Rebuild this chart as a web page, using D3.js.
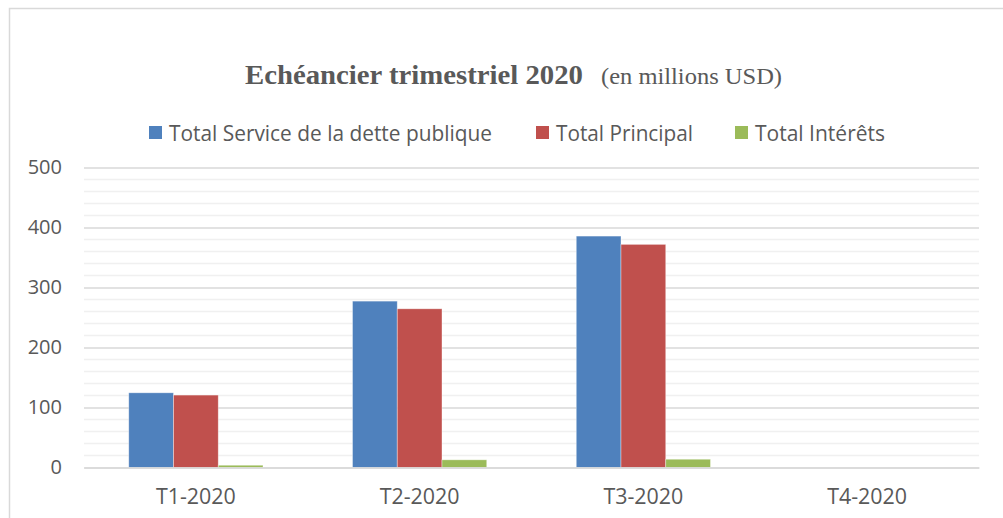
<!DOCTYPE html>
<html>
<head>
<meta charset="utf-8">
<script src="https://cdn.jsdelivr.net/npm/d3@7"></script>
<style>
  html, body { margin: 0; padding: 0; background: #fff; }
  svg { display: block; }
</style>
</head>
<body>
<svg id="chart" width="1003" height="518"></svg>
<script>
const categories = ["T1-2020", "T2-2020", "T3-2020", "T4-2020"];
const seriesNames = ["Total Service de la dette publique", "Total Principal", "Total Intérêts"];
const serviceValues = [124.5, 277.3, 385.7, 0];
const principalValues = [120.7, 264.5, 371.9, 0];
const interetsValues = [3.8, 12.8, 13.8, 0];
const yTicks = [0, 100, 200, 300, 400, 500];
const colors = ["#4F81BD", "#C0504D", "#9BBB59"];
const titleMain = "Echéancier trimestriel 2020";
const titleSub = "(en millions USD)";

const seriesValues = [serviceValues, principalValues, interetsValues];

const svg = d3.select("#chart");
const textColor = "#595959";

// outer chart border
svg.append("rect")
  .attr("x", 9.5).attr("y", 8.5)
  .attr("width", 1100).attr("height", 600)
  .attr("fill", "#fff").attr("stroke", "#d9d9d9").attr("stroke-width", 1.5);

const plotLeft = 84, plotRight = 979, plotTop = 167.5, plotBottom = 467.5;

const x = d3.scaleBand().domain(categories).range([plotLeft, plotRight]).padding(0);
const xs = d3.scaleBand().domain(d3.range(seriesNames.length))
  .range([0, x.bandwidth()]).paddingInner(0).paddingOuter(1);
const y = d3.scaleLinear().domain([0, 500]).range([plotBottom, plotTop]);

// minor gridlines
const minor = d3.range(0, 501, 20).filter(v => v % 100 !== 0);
svg.append("g").selectAll("line").data(minor).join("line")
  .attr("x1", plotLeft).attr("x2", plotRight)
  .attr("y1", d => y(d)).attr("y2", d => y(d))
  .attr("stroke", "#f0f0f0").attr("stroke-width", 1.5);

// major gridlines via axis
const yAxis = svg.append("g")
  .attr("transform", `translate(${plotLeft},0)`)
  .call(d3.axisLeft(y).tickValues(yTicks).tickSize(-(plotRight - plotLeft)).tickPadding(22));
yAxis.select(".domain").remove();
yAxis.selectAll(".tick line").attr("stroke", "#d9d9d9").attr("stroke-width", 1.5);
yAxis.selectAll(".tick text")
  .attr("fill", textColor)
  .style("font-family", "'Open Sans', sans-serif")
  .style("font-size", "20px");

// bars
const groups = svg.append("g").selectAll("g").data(seriesNames).join("g")
  .attr("fill", (d, i) => colors[i]);
groups.selectAll("rect")
  .data((d, si) => categories.map((c, ci) => ({ c, si, v: seriesValues[si][ci] })))
  .join("rect")
  .attr("x", d => x(d.c) + xs(d.si))
  .attr("width", xs.bandwidth())
  .attr("y", d => y(d.v))
  .attr("height", d => y(0) - y(d.v))
  .attr("stroke", "#ffffff").attr("stroke-opacity", 0.5).attr("stroke-width", 0.75);

// x axis
const xAxis = svg.append("g")
  .attr("transform", `translate(0,${plotBottom})`)
  .call(d3.axisBottom(x).tickSize(0).tickPadding(22));
xAxis.select(".domain").attr("stroke", "#d9d9d9").attr("stroke-width", 1.5);
xAxis.selectAll(".tick text")
  .attr("fill", textColor)
  .style("font-family", "'Open Sans', sans-serif")
  .style("font-size", "21px")
  .attr("textLength", 80).attr("lengthAdjust", "spacingAndGlyphs");

// title
svg.append("text")
  .attr("x", 245).attr("y", 84)
  .attr("fill", textColor)
  .style("font-family", "'Liberation Serif', 'DejaVu Serif', serif")
  .style("font-weight", "bold")
  .style("font-size", "28px")
  .attr("textLength", 338).attr("lengthAdjust", "spacingAndGlyphs")
  .text(titleMain);
svg.append("text")
  .attr("x", 601).attr("y", 84)
  .attr("fill", textColor)
  .style("font-family", "'Liberation Serif', 'DejaVu Serif', serif")
  .style("font-size", "23px")
  .attr("textLength", 181).attr("lengthAdjust", "spacingAndGlyphs")
  .text(titleSub);

// legend
const legendX = [149, 536, 735];
const legendW = [323, 137, 130];
const legend = svg.append("g").selectAll("g").data(seriesNames).join("g")
  .attr("transform", (d, i) => `translate(${legendX[i]},126)`);
legend.append("rect")
  .attr("width", 13).attr("height", 13)
  .attr("fill", (d, i) => colors[i]);
legend.append("text")
  .attr("x", 20).attr("y", 14.5)
  .attr("fill", textColor)
  .style("font-family", "'Open Sans', sans-serif")
  .style("font-size", "21px")
  .attr("textLength", (d, i) => legendW[i]).attr("lengthAdjust", "spacingAndGlyphs")
  .text(d => d);
</script>
</body>
</html>
